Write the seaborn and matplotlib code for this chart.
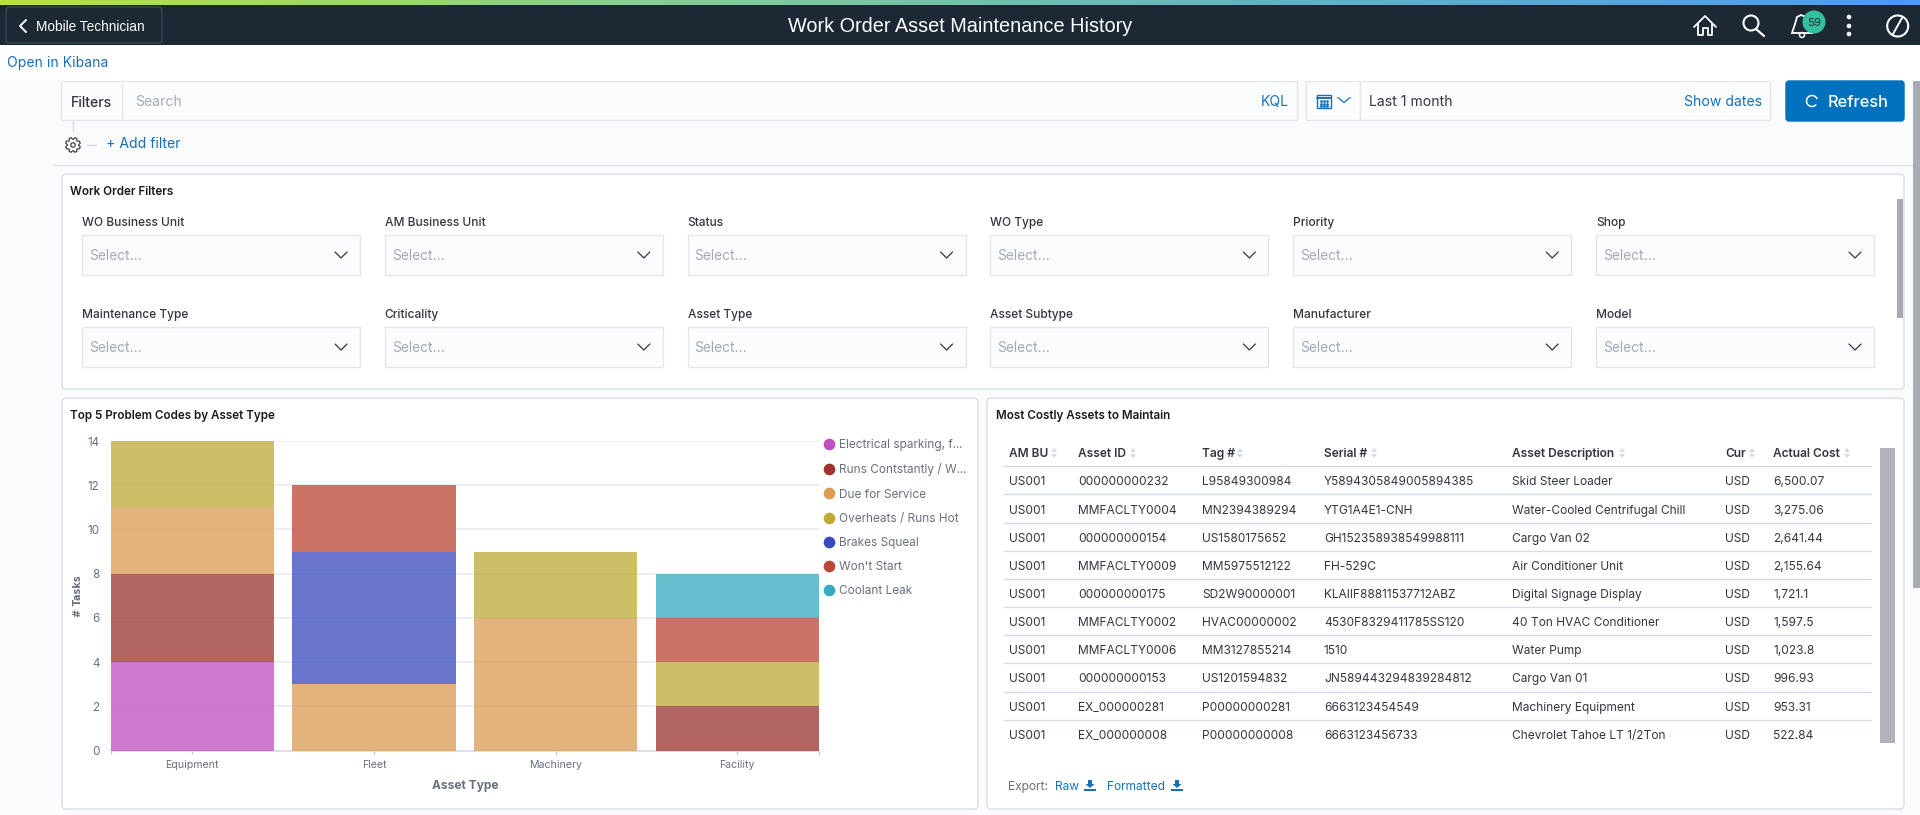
"""Work order asset maintenance dashboard, redrawn with seaborn."""

import matplotlib

matplotlib.use("Agg")
import matplotlib.pyplot as plt
import numpy as np
import seaborn as sns
from matplotlib.colors import LinearSegmentedColormap
from matplotlib.lines import Line2D
from matplotlib.patches import Arc, Circle, FancyBboxPatch, Polygon, Rectangle

ASSET_TYPES = ["Equipment", "Fleet", "Machinery", "Facility"]

SERIES_NAMES = [
    "Electrical sparking, f...",
    "Runs Contstantly / W...",
    "Due for Service",
    "Overheats / Runs Hot",
    "Brakes Squeal",
    "Won't Start",
    "Coolant Leak",
]
ELECTRICAL = [4, 0, 0, 0]
RUNS_CONSTANTLY = [4, 0, 0, 2]
DUE_FOR_SERVICE = [3, 3, 6, 0]
OVERHEATS = [3, 0, 3, 2]
BRAKES_SQUEAL = [0, 6, 0, 0]
WONT_START = [0, 3, 0, 2]
COOLANT_LEAK = [0, 0, 0, 2]
SERIES_COLORS = ["#C04FC0", "#9C352F", "#DB9C55", "#BDAB38", "#3A4ABD", "#BB4836", "#36AABF"]

FILTER_ROW_1 = ["WO Business Unit", "AM Business Unit", "Status", "WO Type", "Priority", "Shop"]
FILTER_ROW_2 = ["Maintenance Type", "Criticality", "Asset Type", "Asset Subtype", "Manufacturer", "Model"]

TABLE_HEADERS = ["AM BU", "Asset ID", "Tag #", "Serial #", "Asset Description", "Cur", "Actual Cost"]
AM_BU = ["US001"] * 10
ASSET_ID = ["000000000232", "MMFACLTY0004", "000000000154", "MMFACLTY0009", "000000000175",
            "MMFACLTY0002", "MMFACLTY0006", "000000000153", "EX_000000281", "EX_000000008"]
TAG = ["L95849300984", "MN2394389294", "US1580175652", "MM5975512122", "SD2W90000001",
       "HVAC00000002", "MM3127855214", "US1201594832", "P00000000281", "P00000000008"]
SERIAL = ["Y5894305849005894385", "YTG1A4E1-CNH", "GH152358938549988111", "FH-529C",
          "KLAIIF88811537712ABZ", "4530F8329411785SS120", "1510", "JN589443294839284812",
          "6663123454549", "6663123456733"]
DESCRIPTION = ["Skid Steer Loader", "Water-Cooled Centrifugal Chill", "Cargo Van 02",
               "Air Conditioner Unit", "Digital Signage Display", "40 Ton HVAC Conditioner",
               "Water Pump", "Cargo Van 01", "Machinery Equipment", "Chevrolet Tahoe LT 1/2Ton"]
CURRENCY = ["USD"] * 10
ACTUAL_COST = ["6,500.07", "3,275.06", "2,641.44", "2,155.64", "1,721.1",
               "1,597.5", "1,023.8", "996.93", "953.31", "522.84"]

W, H = 1920, 815
DARK = "#1D2835"
BLUE = "#1A6FB5"
TEXT = "#343741"
GRAY = "#69707D"
BORDER = "#E3E6EC"
PAGE = "#FAFBFD"

sns.set_theme(style="white")
plt.rcParams["font.family"] = ["Inter", "DejaVu Sans"]


def box(ui, x0, y0, x1, y1, face="white", edge=BORDER, lw=1.0, z=1, radius=0):
    if radius:
        patch = FancyBboxPatch((x0, y0), x1 - x0, y1 - y0, boxstyle=f"round,pad=0,rounding_size={radius}",
                               fc=face, ec=edge, lw=lw, zorder=z)
    else:
        patch = Rectangle((x0, y0), x1 - x0, y1 - y0, fc=face, ec=edge, lw=lw, zorder=z)
    ui.add_patch(patch)


def label(ui, x, y, s, size=9.0, color=TEXT, weight="normal", ha="left", family=None):
    # baseline alignment keeps rows level whether or not a string has descenders
    text = ui.text(x, y + 1.0 + 0.5 * size, s, fontsize=size, color=color, fontweight=weight,
                   ha=ha, va="baseline", zorder=6)
    if family:
        text.set_family(family)


def chevron(ui, x, y, color="#343741", w=6, h=3):
    ui.plot([x - w, x, x + w], [y - h, y + h, y - h], color=color, lw=0.9, zorder=6)


def draw_gear(ui, x, y):
    angles = np.linspace(0, 2 * np.pi, 24, endpoint=False)
    radii = np.where(np.arange(24) % 3 == 0, 5.5, 7.5)
    points = np.column_stack([x + radii * np.cos(angles), y + radii * np.sin(angles)])
    ui.add_patch(Polygon(points, closed=True, fc="none", ec="#444", lw=0.9, zorder=5))
    ui.add_patch(Circle((x, y), 2.2, fc="none", ec="#444", lw=0.9, zorder=5))


def draw_header(ui):
    gradient = LinearSegmentedColormap.from_list("stripe", ["#B9E23F", "#86CE93", "#63B4C4", "#4E9BF0"])
    ui.imshow(np.linspace(0, 1, 400)[None, :], cmap=gradient, extent=(0, W, 5, 0), aspect="auto", zorder=2)
    ui.add_patch(Rectangle((0, 5), W, 40, fc=DARK, ec="none", zorder=2))
    box(ui, 6, 7, 162, 43, face=DARK, edge="#3A4654", z=3, radius=3)
    ui.plot([26, 20, 26], [20, 26, 32], color="white", lw=1.4, zorder=6)
    label(ui, 36, 25, "Mobile Technician", size=9.8, color="white", family="Liberation Sans")
    label(ui, 960, 24, "Work Order Asset Maintenance History", size=14.3, color="white", ha="center",
          family="Liberation Sans")
    # home, search, bell, menu and compass icons
    ui.plot([1694, 1705, 1716], [27, 16, 27], color="white", lw=1.3, zorder=6)
    ui.plot([1698, 1698, 1703, 1703, 1708, 1708, 1712, 1712], [24, 35, 35, 28, 28, 35, 35, 24],
            color="white", lw=1.3, zorder=6)
    ui.add_patch(Circle((1751, 23), 7.5, fc="none", ec="white", lw=1.5, zorder=6))
    ui.plot([1756, 1764], [29, 36], color="white", lw=1.6, zorder=6)
    ui.add_patch(Polygon([[1792, 33], [1795, 24], [1797, 17], [1801, 15], [1806, 17], [1809, 24], [1812, 33]],
                         closed=True, fc="none", ec="white", lw=1.3, zorder=6))
    ui.add_patch(Circle((1802, 35), 2.5, fc="none", ec="white", lw=1.1, zorder=6))
    ui.add_patch(Circle((1814, 22), 11.5, fc="#33BFA0", ec="none", zorder=7))
    ui.text(1814, 22.5, "59", fontsize=8.2, color=DARK, ha="center", va="center", zorder=8)
    for y in (17, 26, 34):
        ui.add_patch(Circle((1849, y), 2.3, fc="white", ec="none", zorder=6))
    ui.add_patch(Circle((1897.7, 26), 10.5, fc="none", ec="white", lw=1.5, zorder=6))
    ui.plot([1893, 1902], [34, 18], color="white", lw=1.4, zorder=6)


def draw_query_bar(ui):
    ui.add_patch(Rectangle((0, 81), W, H - 81, fc=PAGE, ec="none", zorder=0))
    label(ui, 7, 61, "Open in Kibana", size=10.1, color=BLUE)

    box(ui, 61, 81, 1297, 120, face="#FBFCFD")
    ui.plot([122, 122], [83, 120], color=BORDER, lw=1, zorder=3)
    label(ui, 71, 101, "Filters", size=10.1, color=TEXT, weight="medium")
    label(ui, 135, 100, "Search", size=10.1, color="#A4ABB6")
    label(ui, 1261, 100, "KQL", size=10.1, color=BLUE)

    box(ui, 1306, 81, 1770, 120, face="#FBFCFD")
    ui.plot([1360, 1360], [83, 120], color=BORDER, lw=1, zorder=3)
    box(ui, 1317, 95, 1331, 108, face="none", edge=BLUE, z=4)
    ui.plot([1317, 1331], [98, 98], color=BLUE, lw=1.4, zorder=5)
    ui.scatter(np.repeat([1321, 1324, 1327], 3), np.tile([101, 103.5, 106], 3), s=1, color=BLUE, zorder=5)
    chevron(ui, 1344, 100, color=BLUE, w=6, h=2.5)
    label(ui, 1369, 100, "Last 1 month", size=10.1, color=TEXT)
    label(ui, 1684, 100, "Show dates", size=10.1, color=BLUE)

    box(ui, 1786, 81, 1904, 121, face="#0071BC", edge="#0071BC", z=2, radius=3)
    ui.add_patch(Arc((1812, 101), 11, 11, theta1=40, theta2=340, ec="white", lw=1.1, zorder=6))
    label(ui, 1828, 100, "Refresh", size=11.8, color="white", weight="medium")

    ui.plot([73, 73], [121, 131], color="#D3DAE6", lw=1, zorder=2)
    draw_gear(ui, 73, 145)
    ui.plot([87, 96], [145, 145], color="#D3DAE6", lw=1, zorder=2)
    label(ui, 106, 142, "+ Add filter", size=10.1, color=BLUE)
    ui.plot([53, W], [165, 165], color="#DDE1EA", lw=1, zorder=1)
    box(ui, 1913, 81, 1920, 588, face="#A8ABB2", edge="none", z=2)


def draw_filters(ui):
    box(ui, 62, 174, 1904, 389, edge="#D8DDE8", z=1, radius=4)
    label(ui, 70, 190, "Work Order Filters", size=8.4, color="#1A1C21", weight="semibold")
    for names, label_y, y0, y1 in [(FILTER_ROW_1, 221, 235, 275), (FILTER_ROW_2, 313, 327, 367)]:
        for i, name in enumerate(names):
            x0 = 82 + i * 302.8
            label(ui, x0, label_y, name, size=8.6, weight="medium")
            box(ui, x0, y0, x0 + 278, y1, face="#FBFCFD", z=2)
            label(ui, x0 + 7, (y0 + y1) / 2 - 1, "Select...", size=9.9, color="#A4ABB6")
            chevron(ui, x0 + 259, (y0 + y1) / 2)
    box(ui, 1897, 199, 1903, 318, face="#A8ABB2", edge="none", z=2)


def draw_chart(fig, ui):
    box(ui, 62, 398, 978, 809, edge="#D8DDE8", z=1, radius=4)
    label(ui, 70, 414, "Top 5 Problem Codes by Asset Type", size=8.4, color="#1A1C21", weight="semibold")

    ax = fig.add_axes([110.5 / W, 1 - 750.5 / H, (819 - 110.5) / W, (750.5 - 441) / H], zorder=5)
    ax.patch.set_alpha(0)
    series = [ELECTRICAL, RUNS_CONSTANTLY, DUE_FOR_SERVICE, OVERHEATS, BRAKES_SQUEAL, WONT_START, COOLANT_LEAK]
    bottom = np.zeros(len(ASSET_TYPES))
    for values, color in zip(series, SERIES_COLORS):
        sns.barplot(x=ASSET_TYPES, y=values, bottom=bottom, color=color, saturation=1, alpha=0.76,
                    width=0.9, linewidth=0, ax=ax, zorder=3)
        bottom += np.array(values)

    ax.set_xlim(-0.45, 3.45)
    ax.set_ylim(0, 14)
    ax.set_yticks(range(0, 15, 2))
    ax.grid(axis="y", color="#ECEEF2", lw=1.4, zorder=1)
    ax.set_axisbelow(True)
    sns.despine(ax=ax, left=True, top=True, right=True)
    ax.spines["bottom"].set_color("#D9DCE2")
    ax.tick_params(axis="y", length=0, pad=8, labelsize=8.4, labelcolor=GRAY)
    ax.tick_params(axis="x", length=0, pad=7, labelsize=7.6, labelcolor=GRAY)
    for x in (-0.45, 0, 1, 2, 3, 3.45):
        ax.plot([x, x], [0, -0.17], color="#C9CDD4", lw=0.9, clip_on=False, zorder=2)
    ax.set_xlabel("Asset Type", fontsize=8.6, fontweight="bold", color=GRAY, va="center")
    ax.xaxis.set_label_coords(0.5, -0.115)
    ax.set_ylabel("")
    ui.text(78, 596, "# Tasks", rotation=90, fontsize=7.0, fontweight="bold", color=GRAY,
            family="DejaVu Sans", ha="center", va="center", zorder=6)

    handles = [Line2D([], [], ls="", marker="o", ms=7.4, color=c) for c in SERIES_COLORS]
    ax.legend(handles, SERIES_NAMES, loc="upper left", bbox_to_anchor=(0.996, 1.017), frameon=False,
              fontsize=8.5, labelcolor=GRAY, handletextpad=0.0, labelspacing=1.03, borderaxespad=0.3,
              borderpad=0, handlelength=1.6)


def draw_table(ui):
    box(ui, 987, 398, 1904, 809, edge="#D8DDE8", z=1, radius=4)
    label(ui, 996, 414, "Most Costly Assets to Maintain", size=8.4, color="#1A1C21", weight="semibold")

    col_x = [1009, 1078, 1202, 1324, 1512, 1725, 1773]
    arrow_x = [1054, 1133, 1240, 1374, 1622, 1752, 1847]
    row_y = [480, 509, 537, 565, 593, 621, 649, 677, 706, 734]
    line_y = [466, 494, 523, 551, 579, 607, 635, 663, 692, 720]
    columns = [AM_BU, ASSET_ID, TAG, SERIAL, DESCRIPTION, CURRENCY, ACTUAL_COST]
    for x, ax_, head, col in zip(col_x, arrow_x, TABLE_HEADERS, columns):
        label(ui, x, 452, head, size=8.6, weight="semibold")
        ui.add_patch(Polygon([[ax_ - 3, 452], [ax_ + 3, 452], [ax_, 448]], fc="#D3DAE6", ec="none", zorder=5))
        ui.add_patch(Polygon([[ax_ - 3, 454], [ax_ + 3, 454], [ax_, 458]], fc="#D3DAE6", ec="none", zorder=5))
        for y, s in zip(row_y, col):
            label(ui, x, y, s, size=8.6, color=TEXT)
    for y in line_y:
        ui.plot([1004, 1871], [y, y], color="#D8DCE3", lw=1, zorder=2)
    box(ui, 1880, 448, 1895, 743, face="#B0B3BA", edge="none", z=2)

    label(ui, 1008, 785, "Export:", size=8.6, color=GRAY)
    label(ui, 1055, 785, "Raw", size=8.6, color=BLUE)
    label(ui, 1107, 785, "Formatted", size=8.6, color=BLUE)
    for x in (1090, 1177):
        ui.add_patch(Polygon([[x - 2, 780], [x + 2, 780], [x + 2, 784], [x + 4.5, 784], [x, 788], [x - 4.5, 784], [x - 2, 784]],
                             fc=BLUE, ec="none", zorder=6))
        ui.add_patch(Rectangle((x - 6, 788.5), 12, 2.5, fc=BLUE, ec="none", zorder=6))


def main():
    fig = plt.figure(figsize=(W / 100, H / 100), dpi=100, facecolor="white")
    ui = fig.add_axes([0, 0, 1, 1], zorder=1)
    ui.set_xlim(0, W)
    ui.set_ylim(H, 0)
    ui.axis("off")

    draw_header(ui)
    draw_query_bar(ui)
    draw_filters(ui)
    draw_chart(fig, ui)
    draw_table(ui)

    ui.set_xlim(0, W)
    ui.set_ylim(H, 0)
    fig.savefig("out.png", dpi=100)
    plt.close(fig)


if __name__ == "__main__":
    main()
